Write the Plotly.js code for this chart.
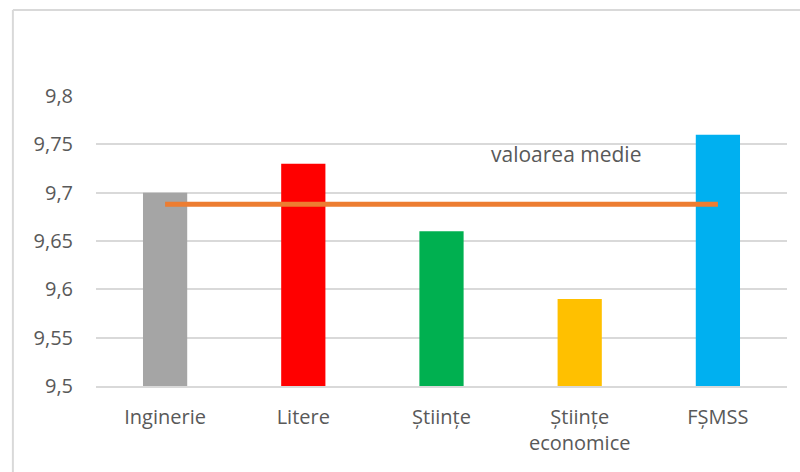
<!DOCTYPE html>
<html>
<head>
<meta charset="utf-8">
<script src="https://cdn.plot.ly/plotly-3.0.1.min.js"></script>
<style>html,body{margin:0;padding:0;background:#fff;}#chart{width:800px;height:472px;}</style>
</head>
<body>
<div id="chart"></div>
<script>
const categories = ["Inginerie", "Litere", "Științe", "Științe<br>economice", "FȘMSS"];
const values = [9.70, 9.73, 9.66, 9.59, 9.76];
const barColors = ["#A5A5A5", "#FF0000", "#00B050", "#FFC000", "#00B0F0"];
const meanCategories = ["Inginerie", "FȘMSS"];
const meanValues = [9.688, 9.688];
const meanLabel = "valoarea medie";
const yTickVals = [9.5, 9.55, 9.6, 9.65, 9.7, 9.75, 9.8];
const yTickText = ["9,5", "9,55", "9,6", "9,65", "9,7", "9,75", "9,8"];

const font = "Open Sans, Noto Sans, sans-serif";

const data = [
  {
    type: "bar",
    x: categories,
    y: values,
    marker: {color: barColors},
    hoverinfo: "x+y",
    showlegend: false
  },
  {
    type: "scatter",
    mode: "lines",
    x: meanCategories,
    y: meanValues,
    line: {color: "#ED7D31", width: 5},
    showlegend: false
  }
];

const layout = {
  width: 800,
  height: 472,
  margin: {l: 96, r: 13, t: 96, b: 86},
  paper_bgcolor: "#ffffff",
  plot_bgcolor: "#ffffff",
  bargap: 0.68,
  font: {family: font, color: "#595959", size: 20},
  xaxis: {
    type: "category",
    categoryarray: categories,
    showgrid: false,
    showline: true,
    linecolor: "#D9D9D9",
    linewidth: 2,
    ticks: "",
    ticklabelstandoff: 12,
    tickfont: {family: font, size: 20, color: "#595959"},
    fixedrange: true
  },
  yaxis: {
    range: [9.5, 9.8],
    tickvals: yTickVals,
    ticktext: yTickText,
    showgrid: true,
    gridcolor: "#D9D9D9",
    gridwidth: 2,
    zeroline: false,
    showline: false,
    ticks: "",
    ticklabelstandoff: 22,
    tickfont: {family: font, size: 20, color: "#595959"},
    fixedrange: true
  },
  annotations: [
    {
      xref: "paper", yref: "y",
      x: 0.68, y: 9.74,
      text: meanLabel,
      showarrow: false,
      xanchor: "center", yanchor: "middle",
      font: {family: font, size: 21, color: "#595959"}
    }
  ],
  shapes: [
    {type: "line", xref: "paper", yref: "paper",
     x0: -83/690, x1: 800/690, y0: 1 + 86/290, y1: 1 + 86/290,
     line: {color: "#D9D9D9", width: 2}},
    {type: "line", xref: "paper", yref: "paper",
     x0: -83/690, x1: -83/690, y0: 1 + 86/290, y1: -86/290,
     line: {color: "#D9D9D9", width: 2}}
  ]
};

Plotly.newPlot("chart", data, layout, {displayModeBar: false, staticPlot: true});
</script>
</body>
</html>
